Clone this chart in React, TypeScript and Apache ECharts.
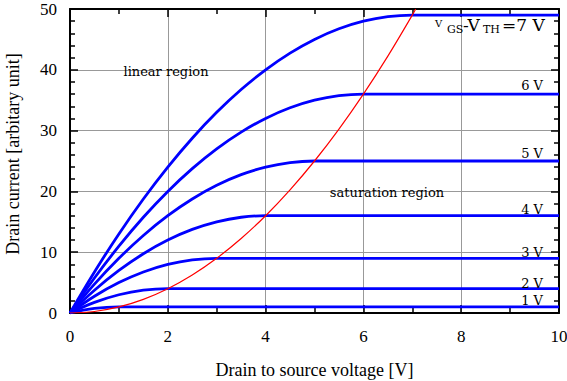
import React, { useEffect, useRef } from "react";
import * as echarts from "echarts";

// Drain-source voltage sample points [V]
const vdsSamples = [0, 0.5, 1, 1.5, 2, 2.5, 3, 3.5, 4, 4.5, 5, 5.5, 6, 6.5, 7];
const vdsEnd = 10;

// Drain current (arbitrary unit), one list per overdrive voltage
const overdrive = [1, 2, 3, 4, 5, 6, 7];
const id1 = [0, 0.75, 1];
const id2 = [0, 1.75, 3, 3.75, 4];
const id3 = [0, 2.75, 5, 6.75, 8, 8.75, 9];
const id4 = [0, 3.75, 7, 9.75, 12, 13.75, 15, 15.75, 16];
const id5 = [0, 4.75, 9, 12.75, 16, 18.75, 21, 22.75, 24, 24.75, 25];
const id6 = [0, 5.75, 11, 15.75, 20, 23.75, 27, 29.75, 32, 33.75, 35, 35.75, 36];
const id7 = [0, 6.75, 13, 18.75, 24, 28.75, 33, 36.75, 40, 42.75, 45, 46.75, 48, 48.75, 49];
const curves = [id1, id2, id3, id4, id5, id6, id7];

// Saturation boundary (red)
const boundaryVds = [0, 0.5, 1, 1.5, 2, 2.5, 3, 3.5, 4, 4.5, 5, 5.5, 6, 6.5, 7, 7.07];
const boundaryId = [0, 0.25, 1, 2.25, 4, 6.25, 9, 12.25, 16, 20.25, 25, 30.25, 36, 42.25, 49, 50];

const curveLabels = ["1 V", "2 V", "3 V", "4 V", "5 V", "6 V"];
const curveLabelY = [300, 283, 252, 209, 153, 85];

export default function App() {
  const ref = useRef<HTMLDivElement>(null);
  useEffect(() => {
    if (!ref.current) return;
    const chart = echarts.init(ref.current, null, { renderer: "svg" });
    const serif = "Liberation Serif";
    const small = "DejaVu Serif";

    const blueSeries = curves.map((ys, k) => {
      const pts = ys.map((y, i) => [vdsSamples[i], y]);
      pts.push([vdsEnd, ys[ys.length - 1]]);
      return {
        type: "line",
        name: `${overdrive[k]} V`,
        data: pts,
        smooth: 0.4,
        showSymbol: false,
        lineStyle: { color: "#0000ff", width: 2.8 },
        z: 3,
      };
    });

    const redSeries = {
      type: "line",
      name: "boundary",
      data: boundaryVds.map((x, i) => [x, boundaryId[i]]),
      smooth: 0.4,
      showSymbol: false,
      lineStyle: { color: "#ff0000", width: 1.2 },
      z: 4,
    };

    const axisCommon = {
      min: 0,
      axisLine: { show: true, onZero: false, lineStyle: { color: "#000", width: 2 } },
      axisTick: { show: true, inside: true, length: 8, lineStyle: { color: "#000", width: 1.5 } },
      minorTick: { show: true, length: 5, lineStyle: { color: "#000", width: 1.5 } },
    };

    const labelStyle = { fontFamily: serif, fontSize: 17, color: "#000" };

    const t = (text: string, x: number, y: number, size: number, align = "left", family = small) => ({
      type: "text",
      x,
      y,
      style: {
        text,
        fontFamily: family,
        fontSize: size,
        fill: "#000",
        textAlign: align,
        textVerticalAlign: "middle",
      },
      z: 10,
    });

    chart.setOption({
      animation: false,
      backgroundColor: "#fff",
      grid: { left: 70, right: 8, top: 9, bottom: 68, containLabel: false, outerBoundsMode: "none" },
      xAxis: [
        {
          ...axisCommon,
          type: "value",
          max: 10,
          interval: 2,
          position: "bottom",
          minorTick: { ...axisCommon.minorTick, splitNumber: 2 },
          axisLabel: { ...labelStyle, margin: 15 },
          splitLine: { show: true, lineStyle: { color: "#999", width: 1 } },
          name: "Drain to source voltage [V]",
          nameLocation: "middle",
          nameGap: 48,
          nameTextStyle: { fontFamily: serif, fontSize: 18, color: "#000" },
        },
        {
          ...axisCommon,
          type: "value",
          max: 10,
          interval: 2,
          position: "top",
          minorTick: { ...axisCommon.minorTick, splitNumber: 2 },
          axisLabel: { show: false },
          splitLine: { show: false },
        },
      ],
      yAxis: [
        {
          ...axisCommon,
          type: "value",
          max: 50,
          interval: 10,
          position: "left",
          minorTick: { ...axisCommon.minorTick, splitNumber: 5 },
          axisLabel: { ...labelStyle, margin: 13 },
          splitLine: { show: true, lineStyle: { color: "#999", width: 1 } },
          name: "Drain current [arbitary unit]",
          nameLocation: "middle",
          nameGap: 48,
          nameTextStyle: { fontFamily: serif, fontSize: 18, color: "#000", padding: [0, 0, 0, 14] },
        },
        {
          ...axisCommon,
          type: "value",
          max: 50,
          interval: 10,
          position: "right",
          minorTick: { ...axisCommon.minorTick, splitNumber: 5 },
          axisLabel: { show: false },
          splitLine: { show: false },
        },
      ],
      series: [redSeries, ...blueSeries],
      graphic: [
        t("linear region", 166, 71, 13, "center"),
        t("saturation region", 387, 192, 13, "center"),
        ...curveLabels.map((s, i) => t(s, 543, curveLabelY[i], 13, "right")),
        t("V", 435, 23, 10),
        t("GS", 447, 29, 11),
        t("-V", 463, 25, 17),
        t("TH", 483, 29, 11),
        t("=7 V", 502, 25, 17),
      ],
    });
    return () => chart.dispose();
  }, []);
  return <div ref={ref} style={{ width: 567, height: 381, position: "absolute", left: 0, top: 0 }} />;
}
